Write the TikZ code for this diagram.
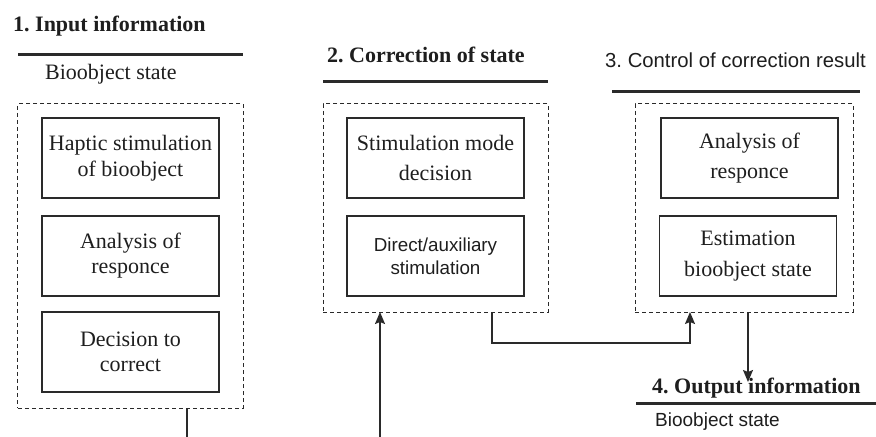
\documentclass[tikz,border=0pt]{standalone}
\usepackage{fontspec}
\setmainfont{Liberation Serif}
\newfontfamily\arialf{Liberation Sans}
\usetikzlibrary{arrows.meta}
\definecolor{ink}{HTML}{1E1E1E}
\definecolor{boxc}{HTML}{2A2A2A}
\tikzset{
  inbox/.style={draw=boxc, line width=1.5bp, rectangle, inner sep=0pt, outer sep=0pt,
    minimum width=177bp, minimum height=80bp, align=center, text=ink},
  dbox/.style={draw=boxc, line width=1bp, dash pattern=on 4bp off 3bp, rectangle,
    inner sep=0pt, outer sep=0pt},
  hline/.style={draw=boxc, line width=3bp},
  conn/.style={draw=boxc, line width=1.5bp},
  arr/.style={conn, -{Stealth[length=12bp, width=10bp, inset=2bp]}},
  head/.style={anchor=base west, inner sep=0pt, text=ink, font=\fontsize{22bp}{26bp}\selectfont\bfseries},
  sub/.style={anchor=base west, inner sep=0pt, text=ink},
}
\begin{document}
\frenchspacing
\begin{tikzpicture}[x=1bp, y=-1bp]
\useasboundingbox[fill=white] (0,0) rectangle (876,437);

% headers
\node[head] (h1) at (13,31.7) {1. Input information};
\node[sub, font=\fontsize{22bp}{26bp}\selectfont] (t1) at (45,80) {Bioobject state};
\node[head] (h2) at (327,63) {2. Correction of state};
\node[sub, font=\arialf\fontsize{20.3bp}{24bp}\selectfont] (h3) at (605,68) {3. Control of correction result};
\node[head] (h4) at (652,393) {4. Output information};
\node[sub, font=\arialf\fontsize{19bp}{23bp}\selectfont] (t4) at (655,426) {Bioobject state};

% header rules
\draw[hline] (18,55) -- (243,55);
\draw[hline] (323,82) -- (548,82);
\draw[hline] (612,92) -- (860,92);
\draw[hline] (636,403) -- (880,403);

% dashed groups
\node[dbox, minimum width=225bp, minimum height=304bp] (D1) at (130.5,256) {};
\node[dbox, minimum width=225bp, minimum height=208bp] (D2) at (435.5,208) {};
\node[dbox, minimum width=218bp, minimum height=208bp] (D3) at (744,208) {};

% inner boxes
\node[inbox, font=\fontsize{22bp}{26bp}\selectfont] (b1a) at (130.5,158) {Haptic stimulation\\of bioobject};
\node[inbox, font=\fontsize{22bp}{25bp}\selectfont] (b1b) at (130.5,256) {Analysis of\\responce};
\node[inbox, font=\fontsize{22bp}{25bp}\selectfont] (b1c) at (130.5,352) {Decision to\\correct};

\node[inbox, font=\fontsize{22bp}{30bp}\selectfont] (b2a) at (435.5,158) {Stimulation mode\\decision};
\node[inbox, font=\arialf\fontsize{18.8bp}{23bp}\selectfont] (b2b) at (435.5,256) {Direct/auxiliary\\stimulation};

\node[inbox, font=\fontsize{22bp}{30bp}\selectfont] (b3a) at (749.5,158) {Analysis of\\responce};
\node[inbox, font=\fontsize{22bp}{31bp}\selectfont] (b3b) at (748,256) {Estimation\\bioobject state};

% connectors
\coordinate (e1) at (187,442);
\coordinate (e2) at (380,442);
\coordinate (c1) at (492,343);
\coordinate (c2) at (690,343);
\coordinate (c3) at (748,382);

\draw[conn] (D1.south -| e1) -- (e1);
\draw[arr] (e2) -- (e2 |- D2.south);
\draw[arr] (D2.south -| c1) -- (c1) -- (c2) -- (c2 |- D3.south);
\draw[arr] (D3.south -| c3) -- (c3);
\end{tikzpicture}
\end{document}
